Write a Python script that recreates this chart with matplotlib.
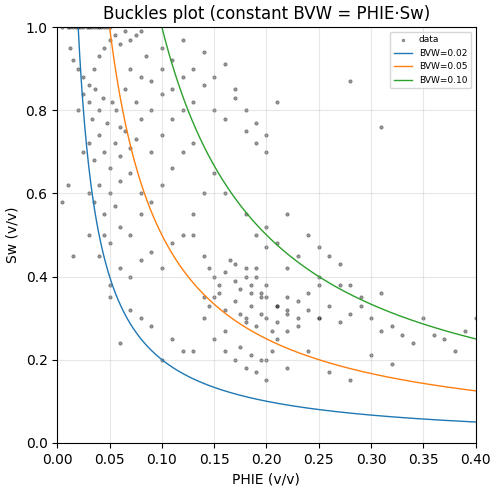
import numpy as np
import matplotlib
matplotlib.use("Agg")
import matplotlib.pyplot as plt

phie = [0.005,0.01,0.012,0.015,0.018,0.02,0.022,0.025,0.028,0.03,0.032,0.035,0.038,0.04,0.042,0.045,0.048,0.05,
        0.012,0.015,0.02,0.025,0.03,0.035,0.04,0.045,0.05,0.055,0.06,0.065,0.07,0.075,0.08,
        0.02,0.025,0.03,0.033,0.036,0.04,0.044,0.048,0.052,0.056,0.06,0.065,0.07,0.075,0.08,0.085,0.09,
        0.025,0.03,0.035,0.04,0.045,0.05,0.055,0.06,0.065,0.07,0.075,0.08,0.09,0.1,
        0.03,0.035,0.04,0.045,0.05,0.055,0.06,0.07,0.08,0.09,0.1,0.11,0.12,
        0.04,0.045,0.05,0.06,0.07,0.08,0.09,0.1,0.11,0.12,0.13,
        0.05,0.06,0.07,0.08,0.09,0.1,0.11,0.12,0.13,0.14,0.15,
        0.1,0.11,0.12,0.13,0.14,0.15,0.16,0.17,0.18,0.19,0.2,
        0.1,0.11,0.12,0.13,0.14,0.15,0.16,0.17,0.18,0.19,0.2,0.21,
        0.13,0.14,0.145,0.15,0.155,0.16,0.165,0.17,0.175,0.18,0.185,0.19,0.195,0.2,0.21,0.22,
        0.14,0.145,0.15,0.155,0.16,0.17,0.175,0.18,0.185,0.19,0.195,0.2,0.205,0.21,0.22,0.23,
        0.15,0.16,0.17,0.175,0.18,0.185,0.19,0.195,0.2,0.205,0.21,0.22,0.23,0.24,0.25,
        0.17,0.18,0.185,0.19,0.195,0.2,0.21,0.22,0.23,0.24,0.25,0.26,0.27,0.28,
        0.22,0.24,0.25,0.26,0.27,0.28,0.29,0.3,0.31,0.32,0.33,0.35,0.37,0.39,
        0.2,0.22,0.24,0.26,0.28,0.3,0.32,0.34,0.36,0.38,0.4,
        0.16,0.18,0.19,0.2,0.21,0.23,0.25,0.27,0.29,0.31,
        0.06,0.08,0.1,0.12,0.14,0.16,0.18,0.2,0.22,0.25,0.28,0.31,
        0.005,0.01,0.015,0.03,0.05,0.07,0.09,0.11,0.13]
sw = [1.0,1.0,1.0,1.0,1.0,1.0,1.0,1.0,1.0,1.0,1.0,1.0,1.0,1.0,1.0,1.0,1.0,1.0,
      0.95,0.92,0.9,0.88,0.86,0.9,0.93,0.95,0.97,0.98,0.96,0.99,0.97,0.98,0.99,
      0.8,0.84,0.82,0.78,0.85,0.8,0.83,0.77,0.82,0.8,0.76,0.85,0.9,0.82,0.88,0.93,0.87,
      0.7,0.72,0.68,0.74,0.7,0.66,0.72,0.69,0.75,0.71,0.73,0.78,0.8,0.84,
      0.6,0.58,0.62,0.55,0.6,0.57,0.63,0.65,0.6,0.7,0.74,0.78,0.8,
      0.45,0.5,0.48,0.52,0.5,0.55,0.58,0.62,0.66,0.7,0.72,
      0.38,0.42,0.4,0.44,0.46,0.42,0.48,0.5,0.55,0.6,0.65,
      0.9,0.85,0.88,0.82,0.86,0.8,0.78,0.83,0.75,0.72,0.7,
      0.95,0.92,0.97,0.9,0.94,0.88,0.91,0.85,0.8,0.77,0.74,0.82,
      0.5,0.45,0.42,0.4,0.38,0.41,0.44,0.39,0.37,0.42,0.36,0.4,0.35,0.38,0.33,0.35,
      0.3,0.33,0.35,0.36,0.32,0.34,0.31,0.3,0.33,0.28,0.31,0.3,0.27,0.29,0.31,0.3,
      0.25,0.22,0.2,0.23,0.18,0.21,0.17,0.2,0.15,0.22,0.25,0.27,0.28,0.32,0.3,
      0.43,0.4,0.38,0.42,0.36,0.35,0.33,0.32,0.34,0.36,0.3,0.33,0.29,0.31,
      0.55,0.5,0.47,0.45,0.43,0.38,0.35,0.3,0.27,0.28,0.26,0.3,0.25,0.27,
      0.2,0.18,0.22,0.17,0.15,0.21,0.19,0.24,0.26,0.22,0.3,
      0.6,0.55,0.5,0.52,0.48,0.45,0.4,0.38,0.33,0.36,
      0.24,0.3,0.2,0.22,0.35,0.27,0.29,0.47,0.42,0.38,0.87,0.76,
      0.58,0.62,0.45,0.5,0.35,0.32,0.28,0.25,0.22]

bvw_values = [0.02, 0.05, 0.10]
colors = ["#1f77b4", "#ff7f0e", "#2ca02c"]

fig, ax = plt.subplots(figsize=(4.98, 4.92), dpi=100)
ax.scatter(phie, sw, s=6, c="k", alpha=0.4, linewidths=0.5, label="data")
for b, c in zip(bvw_values, colors):
    x = np.linspace(b, 0.4, 800)
    ax.plot(x, b / x, color=c, lw=1, label=f"BVW={b:.2f}")
ax.set_xlim(0, 0.4)
ax.set_ylim(0, 1)
ax.set_xlabel("PHIE (v/v)")
ax.set_ylabel("Sw (v/v)")
ax.set_title("Buckles plot (constant BVW = PHIE·Sw)")
ax.grid(True, alpha=0.3)
ax.legend(loc="upper right", fontsize=6.5, markerscale=0.8)
fig.subplots_adjust(left=0.115, right=0.955, top=0.945, bottom=0.1)
fig.savefig("out.png", dpi=100)
